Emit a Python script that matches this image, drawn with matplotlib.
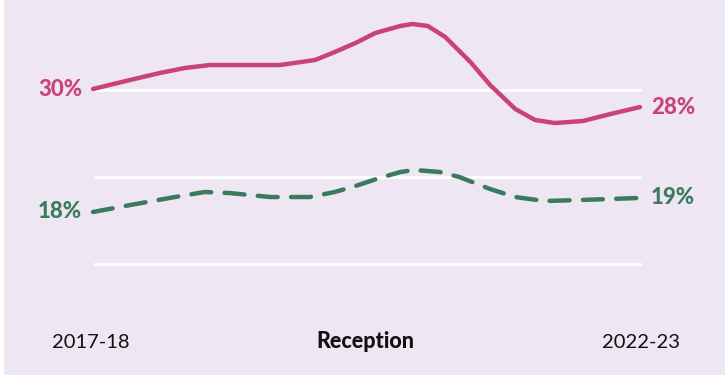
import matplotlib.pyplot as plt
from matplotlib.patches import Rectangle

# Data (x in years since 2017-18, y in %)
pink_x = [0, 0.34, 0.61, 0.84, 1.07, 1.39, 1.71, 2.03, 2.21, 2.40, 2.58, 2.81, 2.92,
          3.06, 3.22, 3.45, 3.63, 3.86, 4.04, 4.22, 4.48, 4.73, 5.0]
pink_y = [30.0, 30.88, 31.56, 32.05, 32.34, 32.34, 32.34, 32.83, 33.61, 34.49, 35.46,
          36.15, 36.34, 36.15, 35.07, 32.63, 30.39, 28.05, 26.98, 26.68, 26.88, 27.56, 28.24]

green_x = [0, 0.34, 0.70, 1.02, 1.25, 1.62, 1.98, 2.21, 2.40, 2.62, 2.81, 2.94, 3.17,
           3.35, 3.63, 3.86, 4.13, 4.45, 4.73, 5.0]
green_y = [18.0, 18.68, 19.37, 19.95, 19.85, 19.46, 19.46, 19.95, 20.54, 21.32, 21.90,
           22.10, 21.90, 21.41, 20.24, 19.46, 19.07, 19.17, 19.27, 19.37]

grid_y = [29.9, 21.41, 12.93]
start_labels = ['30%', '18%']
end_labels = ['28%', '19%']
x_labels = ['2017-18', 'Reception', '2022-23']

pink = '#C94377'
green = '#3A7B5E'
bg = '#EEE6F2'

plt.rcParams['font.family'] = ['Lato', 'DejaVu Sans']

fig = plt.figure(figsize=(7.25, 3.78), dpi=100)
fig.patch.set_facecolor('white')

ax = fig.add_axes([0, 0, 1, 1])
ax.set_facecolor('none')
ax.set_xlim(-93 / 109.4, 5 + 85 / 109.4)
ax.set_ylim(30 - 289 / 10.25, 30 + 89 / 10.25)
ax.axis('off')

# lavender panel with thin white margin
ax.add_patch(Rectangle((4 / 725, 3 / 378), 721 / 725, 375 / 378, transform=ax.transAxes,
                       facecolor=bg, edgecolor='none', zorder=0))

for gy in grid_y:
    ax.plot([0.02, 5.0], [gy, gy], color='white', lw=2, zorder=1)

ax.plot(pink_x, pink_y, color=pink, lw=3.2, solid_capstyle='round', zorder=3)
ax.plot(green_x, green_y, color=green, lw=3.2, dashes=(4.5, 3), dash_capstyle='round', zorder=3)

lab = dict(fontsize=16, fontweight='black', va='center')
ax.text(-0.10, pink_y[0], start_labels[0], color=pink, ha='right', **lab)
ax.text(-0.10, green_y[0], start_labels[1], color=green, ha='right', **lab)
ax.text(5.10, pink_y[-1], end_labels[0], color=pink, ha='left', **lab)
ax.text(5.10, green_y[-1], end_labels[1], color=green, ha='left', **lab)

fig.text(52 / 725, 1 - 342 / 378, x_labels[0], fontsize=14.5, ha='left', va='center', color='#111111')
fig.text(365 / 725, 1 - 342 / 378, x_labels[1], fontsize=15.5, fontweight='black', ha='center',
         va='center', color='#111111')
fig.text(680 / 725, 1 - 342 / 378, x_labels[2], fontsize=14.5, ha='right', va='center', color='#111111')

fig.savefig('out.png', dpi=100)
